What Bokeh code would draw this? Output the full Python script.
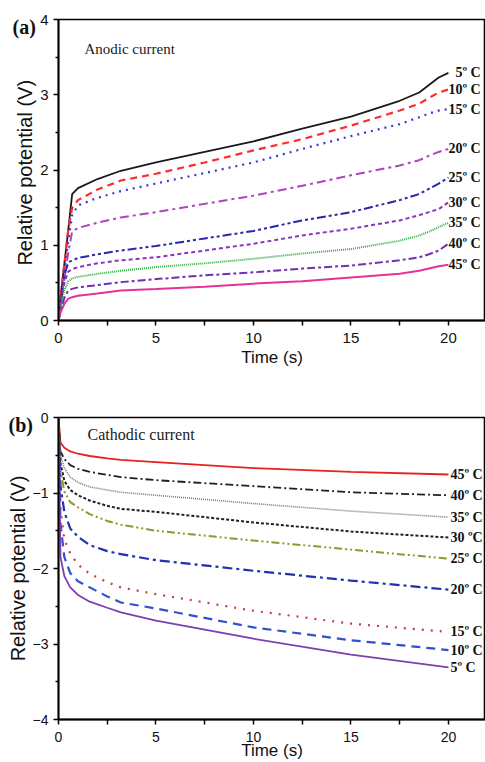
from bokeh.plotting import figure
from bokeh.models import Range1d, FixedTicker, Label
from bokeh.layouts import column
from bokeh.core.properties import value
from bokeh.embed import file_html
from bokeh.resources import INLINE

# ---------------- data: (a) anodic current ----------------
time_a = [0, 0.1, 0.3, 0.5, 0.7, 1, 2, 3.2, 5, 7.5, 10, 12.5, 15, 17.5, 18.5, 19, 19.5, 20]
anodic_5 = [0, 0.3, 0.75, 1.2, 1.68, 1.76, 1.88, 1.99, 2.10, 2.24, 2.38, 2.55, 2.71, 2.92, 3.03, 3.13, 3.23, 3.29]
anodic_10 = [0, 0.3, 0.75, 1.2, 1.5, 1.6, 1.74, 1.86, 1.95, 2.10, 2.26, 2.41, 2.59, 2.79, 2.88, 2.96, 3.03, 3.07]
anodic_15 = [0, 0.25, 0.65, 1.05, 1.4, 1.53, 1.63, 1.72, 1.82, 1.96, 2.10, 2.28, 2.45, 2.61, 2.70, 2.75, 2.79, 2.81]
anodic_20 = [0, 0.2, 0.55, 0.9, 1.18, 1.23, 1.30, 1.37, 1.44, 1.55, 1.66, 1.79, 1.93, 2.06, 2.13, 2.19, 2.24, 2.28]
anodic_25 = [0, 0.2, 0.6, 0.77, 0.8, 0.83, 0.88, 0.93, 0.99, 1.09, 1.19, 1.33, 1.44, 1.60, 1.68, 1.75, 1.82, 1.90]
anodic_30 = [0, 0.2, 0.5, 0.65, 0.68, 0.71, 0.76, 0.80, 0.84, 0.93, 1.02, 1.13, 1.22, 1.33, 1.40, 1.44, 1.48, 1.57]
anodic_35 = [0, 0.15, 0.4, 0.52, 0.56, 0.58, 0.62, 0.66, 0.71, 0.76, 0.82, 0.89, 0.95, 1.06, 1.13, 1.18, 1.24, 1.30]
anodic_40 = [0, 0.12, 0.3, 0.4, 0.42, 0.44, 0.47, 0.51, 0.55, 0.60, 0.64, 0.69, 0.73, 0.80, 0.84, 0.88, 0.93, 1.02]
anodic_45 = [0, 0.1, 0.22, 0.29, 0.31, 0.33, 0.36, 0.40, 0.42, 0.45, 0.49, 0.52, 0.57, 0.62, 0.66, 0.69, 0.72, 0.74]
labels_a = ["5º C", "10º C", "15º C", "20º C", "25º C", "30º C", "35º C", "40º C", "45º C"]

# ---------------- data: (b) cathodic current ----------------
time_b = [0, 0.1, 0.3, 0.6, 1, 1.6, 2.5, 3.2, 5, 10, 15, 20]
cathodic_45 = [0, -0.33, -0.40, -0.45, -0.48, -0.51, -0.54, -0.56, -0.59, -0.67, -0.72, -0.755]
cathodic_40 = [0, -0.45, -0.55, -0.63, -0.68, -0.72, -0.76, -0.79, -0.83, -0.91, -0.99, -1.03]
cathodic_35 = [0, -0.50, -0.67, -0.79, -0.86, -0.92, -0.96, -0.99, -1.03, -1.14, -1.24, -1.32]
cathodic_30 = [0, -0.60, -0.84, -0.96, -1.03, -1.10, -1.17, -1.21, -1.25, -1.39, -1.51, -1.59]
cathodic_25 = [0, -0.70, -0.98, -1.12, -1.19, -1.28, -1.37, -1.42, -1.50, -1.63, -1.75, -1.87]
cathodic_20 = [0, -0.90, -1.25, -1.47, -1.58, -1.69, -1.77, -1.81, -1.89, -2.03, -2.16, -2.28]
cathodic_15 = [0, -1.20, -1.62, -1.80, -1.95, -2.07, -2.18, -2.25, -2.34, -2.56, -2.73, -2.84]
cathodic_10 = [0, -1.40, -1.85, -2.06, -2.17, -2.25, -2.37, -2.45, -2.53, -2.78, -2.95, -3.08]
cathodic_5 = [0, -1.85, -2.10, -2.25, -2.35, -2.44, -2.52, -2.58, -2.69, -2.93, -3.14, -3.31]
labels_b = ["45º C", "40º C", "35º C", "30 ºC", "25º C", "20º C", "15º C", "10º C", "5º C"]

x_ticks = [0, 5, 10, 15, 20]
x_minor = [2.5, 7.5, 12.5, 17.5]

SANS = "Liberation Sans"
SERIF = "Liberation Serif"

series_a = [anodic_5, anodic_10, anodic_15, anodic_20, anodic_25,
            anodic_30, anodic_35, anodic_40, anodic_45]
style_a = [
    ("#1a1a1a", "solid", 1.8),
    ("#ff2a2a", "7 5", 2.2),
    ("#3a3ad0", "2 5", 2.2),
    ("#b044c0", "9 4 3 4", 2.0),
    ("#2828a8", "9 3 3 3 3 3", 2.0),
    ("#8a35c0", "4 3", 2.0),
    ("#30b040", "1 1", 2.0),
    ("#7030b0", "8 3 3 3", 2.0),
    ("#e8309a", "solid", 2.0),
]

series_b = [cathodic_45, cathodic_40, cathodic_35, cathodic_30, cathodic_25,
            cathodic_20, cathodic_15, cathodic_10, cathodic_5]
style_b = [
    ("#e82020", "solid", 1.8),
    ("#202020", "8 3 2 3", 1.8),
    ("#7a7a7a", "1 1", 1.6),
    ("#202020", "3 2", 2.0),
    ("#8a9a30", "8 3 2 3 2 3", 2.0),
    ("#2030b0", "10 4 3 4", 2.2),
    ("#c04040", "2 7", 2.2),
    ("#3050d0", "9 6", 2.2),
    ("#7a40b0", "solid", 1.8),
]


def style_axes(p, yticks, yminor, tick_size):
    p.outline_line_color = "black"
    p.outline_line_width = 1.6
    p.xgrid.visible = False
    p.ygrid.visible = False
    p.xaxis.ticker = FixedTicker(ticks=x_ticks, minor_ticks=x_minor)
    p.yaxis.ticker = FixedTicker(ticks=yticks, minor_ticks=yminor)
    for ax in (p.xaxis, p.yaxis):
        ax.axis_line_color = "black"
        ax.axis_line_width = 1.8
        ax.major_tick_line_color = "black"
        ax.minor_tick_line_color = "black"
        ax.major_tick_line_width = 1.5
        ax.minor_tick_line_width = 1.5
        ax.major_tick_in = 0
        ax.minor_tick_in = 0
        ax.major_label_text_font = SANS
        ax.major_label_text_font_size = tick_size
        ax.major_label_text_color = "#111111"
        ax.axis_label_text_font = SANS
        ax.axis_label_text_font_style = "normal"
        ax.axis_label_text_color = "#111111"
    p.xaxis.major_tick_out = 5
    p.xaxis.minor_tick_out = 5
    p.yaxis.major_tick_out = 5
    p.yaxis.minor_tick_out = 3
    p.yaxis.major_label_standoff = 5
    p.yaxis.axis_label_standoff = 1
    p.xaxis.axis_label = "Time (s)"
    p.xaxis.axis_label_text_font_size = "17px"
    p.yaxis.axis_label_text_font_size = "20px"


def panel_tag(p, text):
    # panel letter drawn as the figure title, pulled down beside the top-left corner
    p.title.text = text
    p.title.align = "left"
    p.title.offset = -46
    p.title.standoff = -36
    p.title.text_font = SERIF
    p.title.text_font_style = "bold"
    p.title.text_font_size = "20px"
    p.title.text_color = "#111111"


# ---------------- panel (a) ----------------
pa = figure(width=485, height=380, output_backend="svg", toolbar_location=None,
            x_range=Range1d(0, 21.9), y_range=Range1d(0, 4),
            min_border_left=58, min_border_right=0, min_border_top=19, min_border_bottom=60)
style_axes(pa, [0, 1, 2, 3, 4], [0.5, 1.5, 2.5, 3.5], "15px")
pa.yaxis.axis_label = "Relative potential  (V)"
pa.xaxis.major_label_standoff = 7
pa.xaxis.axis_label_standoff = 2
panel_tag(pa, "(a)")

for ys, (col, dash, lw) in zip(series_a, style_a):
    pa.line(time_a, ys, line_color=col, line_dash=dash, line_width=lw)

pa.text(x=[21.65] * len(labels_a), y=[s[-1] for s in series_a], text=labels_a,
        text_font=value(SERIF), text_font_style="bold", text_font_size="14px",
        text_align="right", text_baseline="middle", text_color="#111111")

pa.add_layout(Label(x=1.33, y=3.61, text="Anodic current", text_font=SERIF,
                    text_font_size="15px", text_baseline="middle", text_color="#222222"))

# ---------------- panel (b) ----------------
pb = figure(width=485, height=382, output_backend="svg", toolbar_location=None,
            x_range=Range1d(0, 21.9), y_range=Range1d(-4, 0),
            min_border_left=58, min_border_right=0, min_border_top=37, min_border_bottom=43)
style_axes(pb, [-4, -3, -2, -1, 0], [-3.5, -2.5, -1.5, -0.5], "14px")
pb.yaxis.axis_label = "Relative potential (V)"
pb.xaxis.major_label_standoff = 7
pb.xaxis.axis_label_standoff = -4
panel_tag(pb, "(b)")
pb.title.offset = -50

for ys, (col, dash, lw) in zip(series_b, style_b):
    pb.line(time_b, ys, line_color=col, line_dash=dash, line_width=lw)

pb.text(x=[20.1] * len(labels_b), y=[s[-1] for s in series_b], text=labels_b,
        text_font=value(SERIF), text_font_style="bold", text_font_size="14px",
        text_align="left", text_baseline="middle", text_color="#111111")

pb.add_layout(Label(x=1.49, y=-0.225, text="Cathodic current", text_font=SERIF,
                    text_font_size="16px", text_baseline="middle", text_color="#222222"))

layout = column(pa, pb, spacing=0)
open("out.html", "w").write(file_html(layout, INLINE))
